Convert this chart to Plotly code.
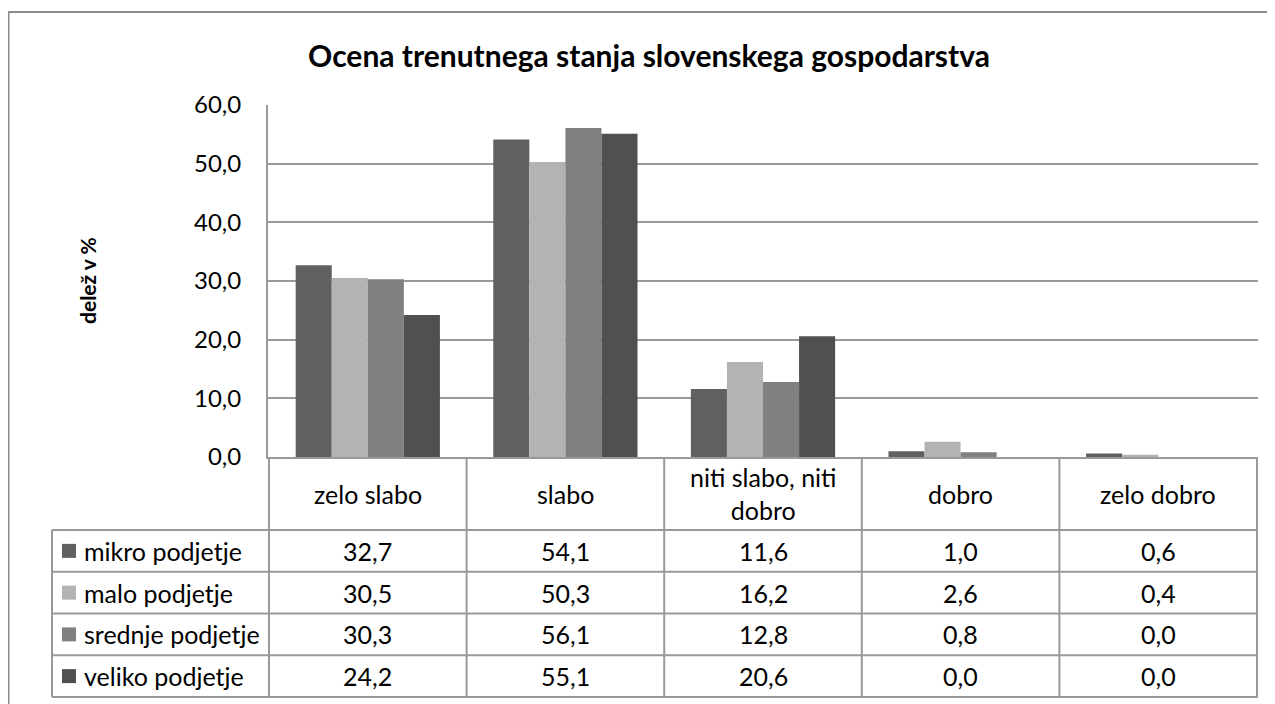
import plotly.graph_objects as go

categories = ["zelo slabo", "slabo", "niti slabo, niti dobro", "dobro", "zelo dobro"]
header_labels = ["zelo slabo", "slabo", "niti slabo, niti<br>dobro", "dobro", "zelo dobro"]
series_names = ["mikro podjetje", "malo podjetje", "srednje podjetje", "veliko podjetje"]
mikro = [32.7, 54.1, 11.6, 1.0, 0.6]
malo = [30.5, 50.3, 16.2, 2.6, 0.4]
srednje = [30.3, 56.1, 12.8, 0.8, 0.0]
veliko = [24.2, 55.1, 20.6, 0.0, 0.0]
series_values = [mikro, malo, srednje, veliko]
colors = ["#606060", "#b3b3b3", "#808080", "#505050"]
y_ticks = [0, 10, 20, 30, 40, 50, 60]

# page offset (body margin) compensation
OX, OY = 8, 8
W, H = 1275 - OX, 704 - OY
FONT = "Lato"
GRID = "#999999"
# layout in screen pixels
PLOT_L, PLOT_R, PLOT_T, PLOT_B = 268, 1258, 105, 457
TAB_L = 52
HEADER_B = 530
ROW_H = 41.75


def px(x):
    return (x - OX) / W


def py(y):
    return 1 - (y - OY) / H


fig = go.Figure()

for name, vals, col in zip(series_names, series_values, colors):
    fig.add_trace(go.Bar(
        x=categories, y=vals, name=name,
        marker=dict(color=col, line=dict(width=0)),
        showlegend=False,
    ))

fmt = lambda v: f"{v:.1f}".replace(".", ",")
line = dict(color=GRID, width=2)
shapes = []
annotations = []
TFONT = dict(family=FONT, size=25, color="black")

n_rows = len(series_names)
row_tops = [HEADER_B + i * ROW_H for i in range(n_rows)]
TAB_B = HEADER_B + n_rows * ROW_H

# horizontal table lines
for yy in [HEADER_B] + [t + ROW_H for t in row_tops]:
    shapes.append(dict(type="line", xref="paper", yref="paper",
                       x0=px(TAB_L), x1=px(PLOT_R), y0=py(yy), y1=py(yy), line=line))
# vertical lines: left column + category boundaries from the x axis
shapes.append(dict(type="line", xref="paper", yref="paper",
                   x0=px(TAB_L), x1=px(TAB_L), y0=py(HEADER_B), y1=py(TAB_B), line=line))
for i in range(len(categories) + 1):
    shapes.append(dict(type="line", xref="x", yref="paper",
                       x0=i - 0.5, x1=i - 0.5, y0=py(PLOT_B), y1=py(TAB_B), line=line))

# header labels
for cat, lab in zip(categories, header_labels):
    annotations.append(dict(text=lab, x=cat, xref="x", y=py((PLOT_B + HEADER_B) / 2), yref="paper",
                            showarrow=False, xanchor="center", yanchor="middle", font=TFONT))

# rows
for r, (name, vals, col) in enumerate(zip(series_names, series_values, colors)):
    yc = row_tops[r] + ROW_H / 2
    shapes.append(dict(type="rect", xref="paper", yref="paper",
                       x0=px(62), x1=px(76), y0=py(yc + 7), y1=py(yc - 7),
                       fillcolor=col, line=dict(width=0)))
    annotations.append(dict(text=name, x=px(82), xref="paper", y=py(yc), yref="paper",
                            showarrow=False, xanchor="left", yanchor="middle", font=TFONT))
    for cat, v in zip(categories, vals):
        annotations.append(dict(text=fmt(v), x=cat, xref="x", y=py(yc), yref="paper",
                                showarrow=False, xanchor="center", yanchor="middle", font=TFONT))

annotations.append(dict(
    text="<b>delež v %</b>", textangle=-90,
    x=px(88), y=py(281), xref="paper", yref="paper",
    xanchor="center", yanchor="middle",
    showarrow=False, font=dict(family=FONT, size=21, color="black"),
))

shapes.append(dict(
    type="rect", xref="paper", yref="paper",
    x0=px(8.5), x1=px(1300), y0=py(740), y1=py(12),
    line=dict(color="#8c8c8c", width=2), fillcolor="rgba(0,0,0,0)", layer="below",
))

fig.update_layout(
    width=W, height=H,
    margin=dict(l=0, r=0, t=0, b=0, autoexpand=False),
    paper_bgcolor="white", plot_bgcolor="white",
    separators=", ",
    barmode="group", bargap=0.27, bargroupgap=0,
    font=dict(family=FONT, color="black"),
    title=dict(
        text="<b>Ocena trenutnega stanja slovenskega gospodarstva</b>",
        x=px(649), y=py(56), xanchor="center", yanchor="middle",
        font=dict(family=FONT, size=30, color="black"),
    ),
    xaxis=dict(
        domain=[px(PLOT_L), px(PLOT_R)], automargin=False,
        showticklabels=False, ticks="",
        showline=True, linecolor=GRID, linewidth=2,
        showgrid=False, zeroline=False,
    ),
    yaxis=dict(
        domain=[py(PLOT_B), py(PLOT_T)], automargin=False,
        range=[0, 60], tickvals=y_ticks, tickformat=".1f",
        showgrid=True, gridcolor=GRID, gridwidth=2,
        showline=True, linecolor=GRID, linewidth=2,
        zeroline=False, ticks="", ticklabelstandoff=20,
        tickfont=dict(family=FONT, size=24, color="black"),
    ),
    annotations=annotations,
    shapes=shapes,
)

fig.write_html("out.html")
